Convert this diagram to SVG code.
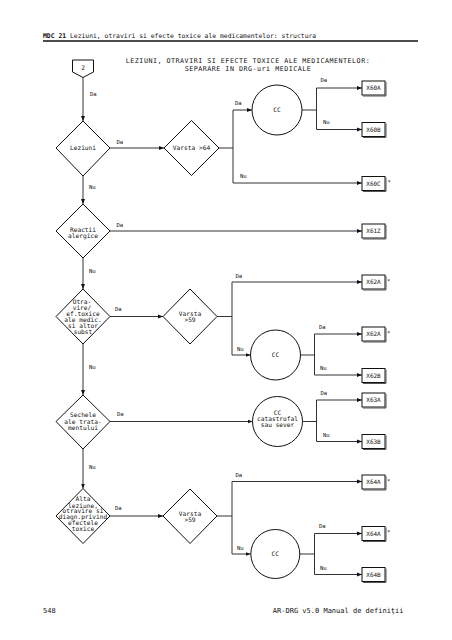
<svg xmlns="http://www.w3.org/2000/svg" width="452" height="640" viewBox="0 0 452 640">
<style>
text{font-family:"DejaVu Sans Mono","Liberation Mono",monospace;fill:#111}
.hd{font-size:6.4px}
.ti{font-size:6.7px;letter-spacing:0.5px}
.nd{font-size:6.2px;text-anchor:middle}
.lb{font-size:5.6px}
.bx{font-size:6px;text-anchor:middle}
.ft{font-size:7px}
.sh{fill:none;stroke:#111;stroke-width:1}
.ln{fill:none;stroke:#333;stroke-width:1}
.ar{fill:none;stroke:#333;stroke-width:1;marker-end:url(#ah)}
.box{fill:#fff;stroke:#111;stroke-width:1}
.bs{fill:none;stroke:#555;stroke-width:1}
</style>
<defs>
<marker id="ah" viewBox="0 0 10 10" refX="10" refY="5" markerWidth="5" markerHeight="5" markerUnits="userSpaceOnUse" orient="auto">
<path d="M0,1 L10,5 L0,9 z" fill="#111"/>
</marker>
</defs>
<rect width="452" height="640" fill="#fff"/>
<g id="header">
<text class="hd" x="43" y="38"><tspan font-weight="bold">MDC 21</tspan> Leziuni, otraviri si efecte toxice ale medicamentelor: structura</text>
<line x1="43" y1="41" x2="418" y2="41" stroke="#111" stroke-width="1.4"/>
<text class="ti" x="248" y="62.8" text-anchor="middle">LEZIUNI, OTRAVIRI SI EFECTE TOXICE ALE MEDICAMENTELOR:</text>
<text class="ti" x="248" y="70.8" text-anchor="middle">SEPARARE IN DRG-uri MEDICALE</text>
</g>
<g id="connectors">
<line class="ar" x1="83" y1="77.5" x2="83" y2="121"/>
<line class="ar" x1="110" y1="148" x2="164" y2="148"/>
<polyline class="ln" points="219,148 233,148"/>
<line class="ln" x1="233" y1="110" x2="233" y2="183"/>
<line class="ar" x1="233" y1="110" x2="252" y2="110"/>
<line class="ar" x1="233" y1="183" x2="362" y2="183"/>
<line class="ln" x1="302" y1="110" x2="316.5" y2="110"/>
<line class="ln" x1="316.5" y1="88" x2="316.5" y2="129.5"/>
<line class="ar" x1="316.5" y1="88" x2="362" y2="88"/>
<line class="ar" x1="316.5" y1="129.5" x2="362" y2="129.5"/>
<line class="ar" x1="83" y1="176" x2="83" y2="204"/>
<line class="ar" x1="110" y1="231" x2="362" y2="231"/>
<line class="ar" x1="83" y1="258" x2="83" y2="289"/>
<line class="ar" x1="110" y1="316.5" x2="163" y2="316.5"/>
<line class="ln" x1="217" y1="316.5" x2="232" y2="316.5"/>
<line class="ln" x1="232" y1="282" x2="232" y2="355"/>
<line class="ar" x1="232" y1="282" x2="362" y2="282"/>
<line class="ar" x1="232" y1="355" x2="250.5" y2="355"/>
<line class="ln" x1="300.5" y1="355" x2="314.5" y2="355"/>
<line class="ln" x1="314.5" y1="334" x2="314.5" y2="375"/>
<line class="ar" x1="314.5" y1="334" x2="362" y2="334"/>
<line class="ar" x1="314.5" y1="375" x2="362" y2="375"/>
<line class="ar" x1="83" y1="344" x2="83" y2="395"/>
<line class="ar" x1="110" y1="421.5" x2="252.5" y2="421.5"/>
<line class="ln" x1="302.5" y1="421.5" x2="316.5" y2="421.5"/>
<line class="ln" x1="316.5" y1="400" x2="316.5" y2="441.5"/>
<line class="ar" x1="316.5" y1="400" x2="362" y2="400"/>
<line class="ar" x1="316.5" y1="441.5" x2="362" y2="441.5"/>
<line class="ar" x1="83" y1="449" x2="83" y2="488.5"/>
<line class="ar" x1="110" y1="516" x2="163" y2="516"/>
<line class="ln" x1="217" y1="516" x2="232" y2="516"/>
<line class="ln" x1="232" y1="481.5" x2="232" y2="554"/>
<line class="ar" x1="232" y1="481.5" x2="362" y2="481.5"/>
<line class="ar" x1="232" y1="554" x2="250.5" y2="554"/>
<line class="ln" x1="300" y1="554" x2="314.5" y2="554"/>
<line class="ln" x1="314.5" y1="533.5" x2="314.5" y2="574.5"/>
<line class="ar" x1="314.5" y1="533.5" x2="362" y2="533.5"/>
<line class="ar" x1="314.5" y1="574.5" x2="362" y2="574.5"/>
<g id="labels">
<text class="lb" x="90" y="96">Da</text>
<text class="lb" x="116.5" y="143.5">Da</text>
<text class="lb" x="235" y="105">Da</text>
<text class="lb" x="240" y="178">Nu</text>
<text class="lb" x="320.5" y="82">Da</text>
<text class="lb" x="323" y="123.5">Nu</text>
<text class="lb" x="89" y="189">Nu</text>
<text class="lb" x="116.5" y="227">Da</text>
<text class="lb" x="89" y="273">Nu</text>
<text class="lb" x="115" y="311">Da</text>
<text class="lb" x="235.5" y="277.5">Da</text>
<text class="lb" x="237" y="351">Nu</text>
<text class="lb" x="319" y="328.5">Da</text>
<text class="lb" x="320" y="370">Nu</text>
<text class="lb" x="89" y="368.5">Nu</text>
<text class="lb" x="117" y="416">Da</text>
<text class="lb" x="320.5" y="395">Da</text>
<text class="lb" x="323" y="437">Nu</text>
<text class="lb" x="89" y="468.5">Nu</text>
<text class="lb" x="115" y="510">Da</text>
<text class="lb" x="235.5" y="477">Da</text>
<text class="lb" x="237" y="550">Nu</text>
<text class="lb" x="319" y="528">Da</text>
<text class="lb" x="320" y="569.5">Nu</text>
</g>
</g>
<g id="start2">
<polygon class="sh" points="72.5,60 93.5,60 93.5,72 83,77.5 72.5,72"/>
<text class="nd" x="83" y="70">2</text>
</g>
<g id="d-leziuni">
<polygon class="sh" points="83,121 110,148 83,176 56,148"/>
<text class="nd" x="83" y="150">Leziuni</text>
</g>
<g id="d-varsta64">
<polygon class="sh" points="191.5,120.5 219,148 191.5,175.5 164,148"/>
<text class="nd" x="191.5" y="150">Varsta &gt;64</text>
</g>
<g id="c-cc1">
<circle class="sh" cx="277" cy="110" r="25"/>
<text class="nd" x="277" y="112">CC</text>
</g>
<g id="d-reactii">
<polygon class="sh" points="83,204 110,231 83,258 56,231"/>
<text class="nd" x="83" y="232">Reactii</text>
<text class="nd" x="83" y="238">alergice</text>
</g>
<g id="d-otravire">
<polygon class="sh" points="83,289 110,316.5 83,344 56,316.5"/>
<text class="nd" x="82" y="304">Otra-</text>
<text class="nd" x="82" y="310">vire/</text>
<text class="nd" x="83" y="316">ef.toxice</text>
<text class="nd" x="83" y="322">ale medic.</text>
<text class="nd" x="83" y="328">si altor</text>
<text class="nd" x="83" y="334">subst</text>
</g>
<g id="d-varsta59a">
<polygon class="sh" points="190,289 217,316.5 190,344 163,316.5"/>
<text class="nd" x="190" y="316.3">Varsta</text>
<text class="nd" x="190" y="322">&gt;59</text>
</g>
<g id="c-cc2">
<circle class="sh" cx="275.5" cy="355" r="25"/>
<text class="nd" x="275.5" y="357">CC</text>
</g>
<g id="d-sechele">
<polygon class="sh" points="83,395 110,421.5 83,449 56,421.5"/>
<text class="nd" x="83" y="417">Sechele</text>
<text class="nd" x="83" y="423.5">ale trata-</text>
<text class="nd" x="83" y="429.5">mentului</text>
</g>
<g id="c-cccat">
<circle class="sh" cx="277.5" cy="421.5" r="25"/>
<text class="nd" x="277.5" y="415.3">CC</text>
<text class="nd" x="277.5" y="421.3">catastrofal</text>
<text class="nd" x="277.5" y="427.3">sau sever</text>
</g>
<g id="d-alta">
<polygon class="sh" points="83,488.5 110,516 83,543.5 56,516"/>
<text class="nd" x="83" y="501">Alta</text>
<text class="nd" x="83" y="507.5">leziune,</text>
<text class="nd" x="83" y="513">otravire si</text>
<text class="nd" x="83" y="519">diagn.privind</text>
<text class="nd" x="83" y="525">efectele</text>
<text class="nd" x="83" y="531">toxice</text>
</g>
<g id="d-varsta59b">
<polygon class="sh" points="190,489 217,516 190,543.5 163,516"/>
<text class="nd" x="190" y="516">Varsta</text>
<text class="nd" x="190" y="522">&gt;59</text>
</g>
<g id="c-cc3">
<circle class="sh" cx="275.3" cy="554" r="24.5"/>
<text class="nd" x="275.3" y="556">CC</text>
</g>
<g id="b-x60a"><rect class="box" x="362" y="81" width="23" height="14"/><polyline class="bs" points="386,82 386,96 363,96"/><text class="bx" x="373.5" y="90">X60A</text></g>
<g id="b-x60b"><rect class="box" x="362" y="122.5" width="23" height="14"/><polyline class="bs" points="386,123.5 386,137.5 363,137.5"/><text class="bx" x="373.5" y="131.5">X60B</text></g>
<g id="b-x60c"><rect class="box" x="362" y="176.5" width="23" height="14"/><polyline class="bs" points="386,177.5 386,191.5 363,191.5"/><text class="bx" x="373.5" y="185.5">X60C</text><text class="lb" x="387.5" y="184">*</text></g>
<g id="b-x61z"><rect class="box" x="362" y="224" width="23" height="14"/><polyline class="bs" points="386,225 386,239 363,239"/><text class="bx" x="373.5" y="233">X61Z</text></g>
<g id="b-x62a1"><rect class="box" x="362" y="275" width="23" height="14"/><polyline class="bs" points="386,276 386,290 363,290"/><text class="bx" x="373.5" y="284">X62A</text><text class="lb" x="387" y="282.5">*</text></g>
<g id="b-x62a2"><rect class="box" x="362" y="327" width="23" height="14"/><polyline class="bs" points="386,328 386,342 363,342"/><text class="bx" x="373.5" y="336">X62A</text><text class="lb" x="387" y="334.5">*</text></g>
<g id="b-x62b"><rect class="box" x="362" y="368.5" width="23" height="14"/><polyline class="bs" points="386,369.5 386,383.5 363,383.5"/><text class="bx" x="373.5" y="377.5">X62B</text></g>
<g id="b-x63a"><rect class="box" x="362" y="393" width="23" height="14"/><polyline class="bs" points="386,394 386,408 363,408"/><text class="bx" x="373.5" y="402">X63A</text></g>
<g id="b-x63b"><rect class="box" x="362" y="434.5" width="23" height="14"/><polyline class="bs" points="386,435.5 386,449.5 363,449.5"/><text class="bx" x="373.5" y="443.5">X63B</text></g>
<g id="b-x64a1"><rect class="box" x="362" y="475" width="23" height="14"/><polyline class="bs" points="386,476 386,490 363,490"/><text class="bx" x="373.5" y="484">X64A</text><text class="lb" x="387" y="482.5">*</text></g>
<g id="b-x64a2"><rect class="box" x="362" y="526.5" width="23" height="14"/><polyline class="bs" points="386,527.5 386,541.5 363,541.5"/><text class="bx" x="373.5" y="535.5">X64A</text><text class="lb" x="387" y="534">*</text></g>
<g id="b-x64b"><rect class="box" x="362" y="567.5" width="23" height="14"/><polyline class="bs" points="386,568.5 386,582.5 363,582.5"/><text class="bx" x="373.5" y="576.5">X64B</text></g>
<g id="footer">
<text class="ft" x="43" y="613">548</text>
<text class="ft" x="403.5" y="613" text-anchor="end">AR-DRG v5.0 Manual de definiţii</text>
</g>
</svg>
